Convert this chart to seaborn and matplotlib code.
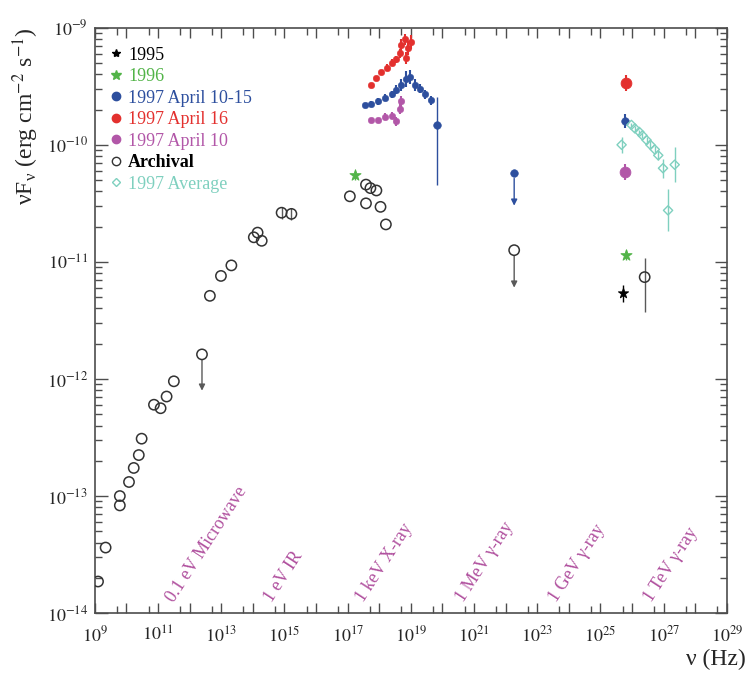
import matplotlib
matplotlib.use("Agg")
import numpy as np
import matplotlib.pyplot as plt
import seaborn as sns
from matplotlib.lines import Line2D
from matplotlib.ticker import FixedLocator, FuncFormatter, LogLocator, NullFormatter

# all values are log10(nu / Hz) and log10(nuF_nu / erg cm^-2 s^-1)

# archival, open circles
arch_lognu = [9.10, 9.34, 9.79, 9.79, 10.08, 10.23, 10.39, 10.48, 10.87, 11.08,
              11.27, 11.50, 12.64, 12.99, 13.32, 14.03, 14.15, 14.28, 14.91, 15.22,
              17.07, 17.58, 17.72, 17.91, 17.58, 18.04, 18.21, 26.40]
arch_logf = [-13.73, -13.44, -13.00, -13.08, -12.88, -12.76, -12.65, -12.51, -12.22, -12.25,
             -12.15, -12.02, -11.29, -11.12, -11.03, -10.79, -10.75, -10.82, -10.58, -10.59,
             -10.44, -10.34, -10.37, -10.39, -10.50, -10.53, -10.68, -11.13]
arch_err_hi = [0, 0, 0, 0, 0, 0, 0, 0, 0, 0, 0, 0, 0, 0, 0, 0, 0, 0, 0.05, 0.05,
               0, 0, 0, 0, 0, 0, 0, 0.16]
arch_err_lo = [0, 0, 0, 0, 0, 0, 0, 0, 0, 0, 0, 0, 0, 0, 0, 0, 0, 0, 0.05, 0.05,
               0, 0, 0, 0, 0, 0, 0, 0.30]

# upper limits: start value and arrow tip
arch_ul_lognu = [12.39, 22.27]
arch_ul_logf = [-11.79, -10.90]
arch_ul_tip = [-12.10, -11.22]

y1995_lognu = [25.72]
y1995_logf = [-11.27]
y1995_err = [0.07]

y1996_lognu = [17.23, 25.82]
y1996_logf = [-10.26, -10.94]
y1996_err = [0.04, 0.04]

# 1997 April 10-15
blue_lognu = [17.54, 17.75, 17.96, 18.17, 18.39, 18.54, 18.70, 18.86, 18.97,
              19.13, 19.28, 19.44, 19.65, 25.79]
blue_logf = [-9.66, -9.65, -9.63, -9.60, -9.57, -9.53, -9.49, -9.44, -9.42,
             -9.49, -9.52, -9.57, -9.62, -9.80]
blue_err = [0.02, 0.02, 0.03, 0.03, 0.03, 0.04, 0.05, 0.07, 0.06,
            0.05, 0.04, 0.04, 0.04, 0.06]
blue_tail_lognu = [19.84]
blue_tail_logf = [-9.83]
blue_tail_hi = [0.24]
blue_tail_lo = [0.51]
blue_ul_lognu = [22.27]
blue_ul_logf = [-10.24]
blue_ul_tip = [-10.52]

# 1997 April 16
red_lognu = [17.75, 17.91, 18.07, 18.23, 18.39, 18.54, 18.65, 18.70, 18.81,
             18.86, 18.91, 19.02, 25.80]
red_logf = [-9.49, -9.43, -9.38, -9.34, -9.30, -9.27, -9.22, -9.15, -9.10,
            -9.26, -9.17, -9.12, -9.47]
red_err = [0.02, 0.02, 0.02, 0.03, 0.03, 0.03, 0.04, 0.05, 0.05,
           0.05, 0.06, 0.06, 0.07]

# 1997 April 10
mag_lognu = [17.75, 17.96, 18.17, 18.39, 18.54, 18.65, 18.70, 25.77]
mag_logf = [-9.79, -9.79, -9.76, -9.75, -9.80, -9.69, -9.63, -10.23]
mag_err = [0.02, 0.02, 0.03, 0.03, 0.04, 0.05, 0.05, 0.07]

# 1997 average, TeV
avg_lognu = [25.67, 25.98, 26.09, 26.23, 26.33, 26.46, 26.58, 26.72, 26.83,
             26.98, 27.14, 27.35]
avg_logf = [-10.00, -9.83, -9.86, -9.89, -9.92, -9.96, -10.00, -10.04, -10.09,
            -10.20, -10.56, -10.17]
avg_err = [0.07, 0.02, 0.02, 0.02, 0.02, 0.03, 0.03, 0.03, 0.04,
           0.08, 0.18, 0.15]

bands = ["0.1 eV Microwave", "1 eV IR", "1 keV X-ray", "1 MeV γ-ray", "1 GeV γ-ray", "1 TeV γ-ray"]
band_lognu = [11.60, 14.72, 17.62, 20.78, 23.72, 26.72]
band_logf = -13.93

c_blue = "#2d4f9e"
c_red = "#e3302e"
c_mag = "#b257a8"
c_green = "#52b448"
c_cyan = "#7fd0bf"
c_band = "#b0509e"


def lin(v):
    return 10 ** np.asarray(v, dtype=float)


def bars(ax, lognu, logf, lo, hi, color, lw=1.0):
    y = lin(logf)
    ylo = y - lin(np.asarray(logf) - np.asarray(lo))
    yhi = lin(np.asarray(logf) + np.asarray(hi)) - y
    ax.errorbar(lin(lognu), y, yerr=[ylo, yhi], fmt="none", ecolor=color,
                elinewidth=lw, capsize=0, zorder=2)


def limits(ax, lognu, logf, tip, color):
    for x, y, t in zip(lognu, logf, tip):
        ax.annotate("", xy=(10 ** x, 10 ** t), xytext=(10 ** x, 10 ** y),
                    arrowprops=dict(arrowstyle="-|>", color=color, lw=1.0,
                                    mutation_scale=9, shrinkA=4, shrinkB=0))


sns.set_style("ticks")
plt.rcParams["font.family"] = ["Liberation Serif", "DejaVu Serif"]
plt.rcParams["mathtext.fontset"] = "stix"

fig = plt.figure(figsize=(7.47, 6.76), dpi=100)
ax = fig.add_axes([0.127, 0.093, 0.846, 0.866])
ax.set_xscale("log")
ax.set_yscale("log")
ax.set_xlim(1e9, 1e29)
ax.set_ylim(1e-14, 1e-9)

# error bars first
bars(ax, arch_lognu, arch_logf, arch_err_lo, arch_err_hi, "0.35")
bars(ax, y1995_lognu, y1995_logf, y1995_err, y1995_err, "k")
bars(ax, y1996_lognu, y1996_logf, y1996_err, y1996_err, c_green)
bars(ax, blue_lognu, blue_logf, blue_err, blue_err, c_blue, 1.5)
bars(ax, blue_tail_lognu, blue_tail_logf, blue_tail_lo, blue_tail_hi, c_blue)
bars(ax, red_lognu, red_logf, red_err, red_err, c_red, 1.5)
bars(ax, mag_lognu, mag_logf, mag_err, mag_err, c_mag, 1.5)
bars(ax, avg_lognu, avg_logf, avg_err, avg_err, c_cyan)
limits(ax, arch_ul_lognu, arch_ul_logf, arch_ul_tip, "0.35")
limits(ax, blue_ul_lognu, blue_ul_logf, blue_ul_tip, c_blue)

# markers
sns.scatterplot(x=lin(arch_lognu), y=lin(arch_logf), ax=ax, marker="o", s=55,
                facecolor="none", edgecolor="0.2", linewidth=1.1, zorder=3)
sns.scatterplot(x=lin(arch_ul_lognu), y=lin(arch_ul_logf), ax=ax, marker="o", s=55,
                facecolor="none", edgecolor="0.2", linewidth=1.1, zorder=3)
sns.scatterplot(x=lin(y1995_lognu), y=lin(y1995_logf), ax=ax, marker="*", s=60,
                color="k", edgecolor="k", zorder=3)
sns.scatterplot(x=lin(y1996_lognu), y=lin(y1996_logf), ax=ax, marker="*", s=70,
                color=c_green, edgecolor=c_green, zorder=3)
sns.scatterplot(x=lin(blue_lognu[:-1]), y=lin(blue_logf[:-1]), ax=ax, marker="o", s=22,
                color=c_blue, edgecolor=c_blue, zorder=3)
sns.scatterplot(x=lin(blue_lognu[-1:] + blue_tail_lognu + blue_ul_lognu),
                y=lin(blue_logf[-1:] + blue_tail_logf + blue_ul_logf), ax=ax,
                marker="o", s=30, color=c_blue, edgecolor=c_blue, zorder=3)
sns.scatterplot(x=lin(red_lognu[:-1]), y=lin(red_logf[:-1]), ax=ax, marker="o", s=22,
                color=c_red, edgecolor=c_red, zorder=3)
sns.scatterplot(x=lin(red_lognu[-1:]), y=lin(red_logf[-1:]), ax=ax, marker="o", s=60,
                color=c_red, edgecolor=c_red, zorder=3)
sns.scatterplot(x=lin(mag_lognu[:-1]), y=lin(mag_logf[:-1]), ax=ax, marker="o", s=22,
                color=c_mag, edgecolor=c_mag, zorder=3)
sns.scatterplot(x=lin(mag_lognu[-1:]), y=lin(mag_logf[-1:]), ax=ax, marker="o", s=60,
                color=c_mag, edgecolor=c_mag, zorder=3)
sns.scatterplot(x=lin(avg_lognu), y=lin(avg_logf), ax=ax, marker="D", s=22,
                facecolor="none", edgecolor=c_cyan, linewidth=1.0, zorder=3)

for name, lx in zip(bands, band_lognu):
    ax.text(10 ** lx, 10 ** band_logf, name, rotation=57, rotation_mode="anchor",
            ha="left", va="bottom", color=c_band, fontsize=13)

# ROOT-like frame
decades = [10.0 ** k for k in range(9, 30)]
ax.xaxis.set_major_locator(FixedLocator(decades))
ax.xaxis.set_minor_locator(FixedLocator([5 * 10.0 ** k for k in range(9, 29)]))
ax.xaxis.set_major_formatter(FuncFormatter(
    lambda v, p: r"$10^{%d}$" % round(np.log10(v)) if round(np.log10(v)) % 2 == 1 else ""))
ax.xaxis.set_minor_formatter(NullFormatter())
ax.yaxis.set_major_locator(LogLocator(base=10))
ax.yaxis.set_minor_locator(LogLocator(base=10, subs=np.arange(2, 10)))
ax.yaxis.set_major_formatter(FuncFormatter(lambda v, p: r"$10^{%d}$" % round(np.log10(v))))
ax.yaxis.set_minor_formatter(NullFormatter())

ax.tick_params(which="both", direction="in", top=True, right=True, color="0.3", width=1.0)
ax.tick_params(axis="x", which="major", length=7, pad=9, labelsize=13)
ax.tick_params(axis="x", which="minor", length=5)
ax.tick_params(axis="y", which="major", length=9, pad=5, labelsize=13)
ax.tick_params(axis="y", which="minor", length=5)
for sp in ax.spines.values():
    sp.set_color("0.3")
    sp.set_linewidth(1.2)

ax.set_ylabel(r"νF$_\mathregular{ν}$ (erg cm$^{-2}$ s$^{-1}$)", loc="top", fontsize=17, labelpad=4)
ax.set_xlabel("ν (Hz)", loc="right", fontsize=17, labelpad=2)
ax.xaxis.label.set_x(1.03)

handles = [
    Line2D([], [], ls="", marker="*", color="k", markersize=6),
    Line2D([], [], ls="", marker="*", color=c_green, markersize=7),
    Line2D([], [], ls="", marker="o", color=c_blue, markersize=6),
    Line2D([], [], ls="", marker="o", color=c_red, markersize=6),
    Line2D([], [], ls="", marker="o", color=c_mag, markersize=6),
    Line2D([], [], ls="", marker="o", mfc="none", mec="0.2", markersize=6),
    Line2D([], [], ls="", marker="D", mfc="none", mec=c_cyan, markersize=4),
]
labels = ["1995", "1996", "1997 April 10-15", "1997 April 16", "1997 April 10",
          "Archival", "1997 Average"]
text_colors = ["k", c_green, c_blue, c_red, c_mag, "k", c_cyan]
leg = ax.legend(handles, labels, loc="upper left", bbox_to_anchor=(0.01, 0.98),
                frameon=False, fontsize=13, handlelength=0.8, handletextpad=0.3,
                labelspacing=0.25, borderaxespad=0)
for t, c in zip(leg.get_texts(), text_colors):
    t.set_color(c)
leg.get_texts()[5].set_fontweight("bold")

fig.savefig("out.png", dpi=100)
